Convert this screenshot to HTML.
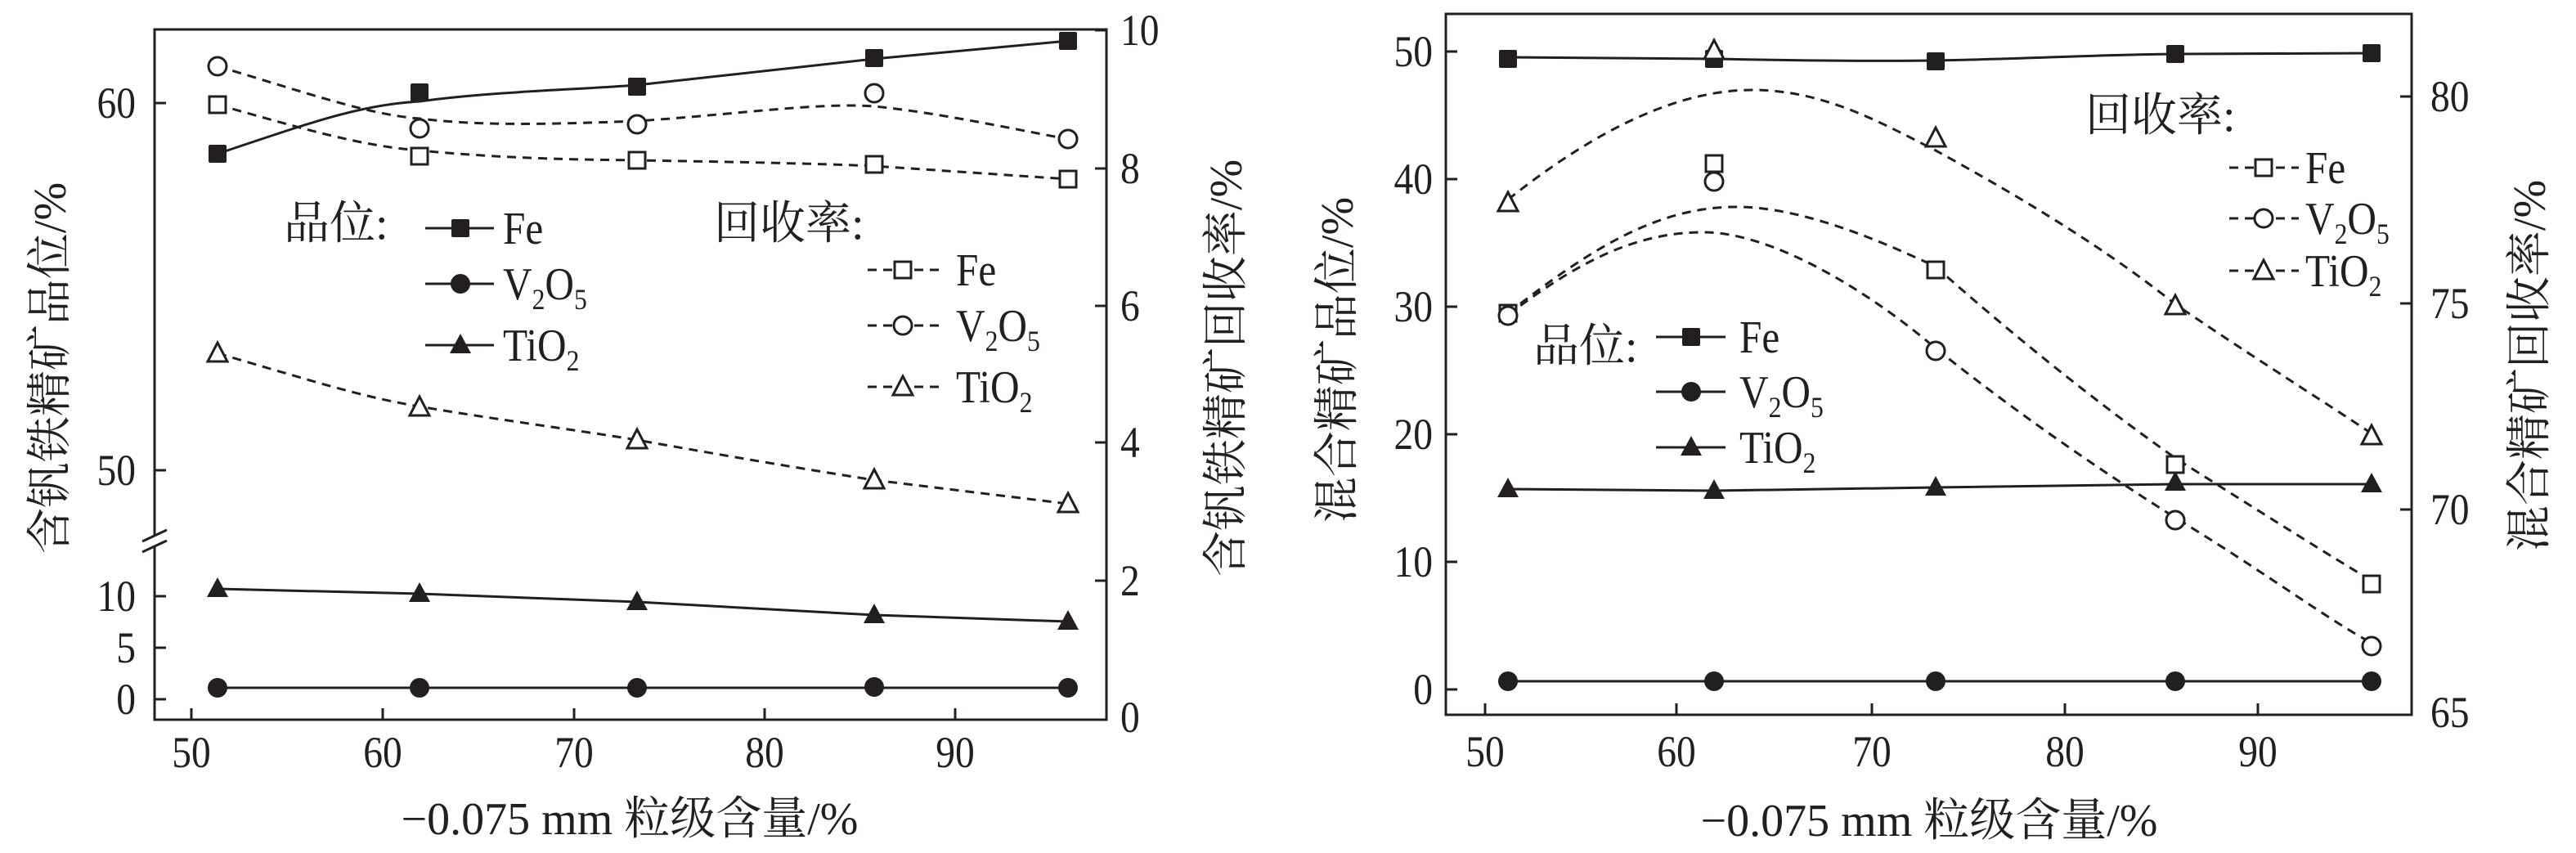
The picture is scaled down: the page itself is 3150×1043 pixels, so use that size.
<!DOCTYPE html>
<html><head><meta charset="utf-8"><style>
html,body{margin:0;padding:0;background:#fff;}
svg{display:block;font-family:"Liberation Serif","Times New Roman","Noto Serif CJK SC","DejaVu Serif",serif;}
text{font-family:"Liberation Serif","Times New Roman","Noto Serif CJK SC","DejaVu Serif",serif;fill:#231f20;}
.cj{font-family:"Liberation Serif","Noto Serif CJK SC","Noto Serif CJK JP",serif;font-size:56px;}
</style></head><body>
<svg width="3150" height="1043" viewBox="0 0 3150 1043" xmlns="http://www.w3.org/2000/svg" font-family="Liberation Serif, Noto Serif CJK SC, serif">
<defs>
<rect id="fs" x="-11" y="-11" width="22" height="22" rx="2" fill="#231f20"/>
<circle id="fc" r="12" fill="#231f20"/>
<path id="ft" d="M0,-14 L13,10 L-13,10 Z" fill="#231f20"/>
<rect id="os" x="-10" y="-10" width="20" height="20" fill="#fff" stroke="#231f20" stroke-width="3"/>
<circle id="oc" r="11" fill="#fff" stroke="#231f20" stroke-width="3"/>
<path id="ot" d="M0,-13 L12,10 L-12,10 Z" fill="#fff" stroke="#231f20" stroke-width="3"/>
</defs>
<g fill="none" stroke="#231f20" stroke-width="3">
<rect x="189" y="36" width="1164" height="844"/>
<path d="M189,126 h14 M189,575 h14 M189,729 h14 M189,792 h14 M189,855 h14"/>
<path d="M1353,37 h-14 M1353,206 h-14 M1353,374 h-14 M1353,541 h-14 M1353,710 h-14"/>
<path d="M234,880 v-14 M468,880 v-14 M702,880 v-14 M935,880 v-14 M1168,880 v-14"/>
</g>
<rect x="180" y="656" width="20" height="12" fill="#fff"/>
<path d="M174,662 L204,648 M174,675 L204,661" stroke="#231f20" stroke-width="3"/>
<g fill="none" stroke="#231f20" stroke-width="3">
<path d="M266,188 C380,150 440,128 513,124 C600,112 700,110 779,104 C880,92 980,82 1069,72 L1306,50"/>
<path d="M266,720 L513,726 L779,736 L1069,752 L1306,760"/>
<path d="M266,841 L1306,841"/>
<g stroke-dasharray="11 8">
<path d="M266,128 C380,160 440,178 513,184 C620,194 700,195 779,196 C900,198 1000,200 1069,203 L1306,219"/>
<path d="M266,81 C380,115 450,140 513,145 C580,153 650,153 779,148 C900,140 1000,125 1069,130 C1150,138 1250,160 1306,170"/>
<path d="M266,432 C380,465 440,485 513,497 C600,512 700,525 779,538 C880,556 980,573 1069,587 L1306,616"/>
</g>
</g>
<use href="#fs" x="266" y="188"/><use href="#fs" x="513" y="113"/><use href="#fs" x="779" y="106"/><use href="#fs" x="1069" y="71"/><use href="#fs" x="1306" y="50"/>
<use href="#ft" x="266" y="720"/><use href="#ft" x="513" y="726"/><use href="#ft" x="779" y="736"/><use href="#ft" x="1069" y="752"/><use href="#ft" x="1306" y="760"/>
<use href="#fc" x="266" y="841"/><use href="#fc" x="513" y="841"/><use href="#fc" x="779" y="841"/><use href="#fc" x="1069" y="840"/><use href="#fc" x="1306" y="841"/>
<use href="#os" x="266" y="128"/><use href="#os" x="513" y="191"/><use href="#os" x="779" y="196"/><use href="#os" x="1069" y="201"/><use href="#os" x="1306" y="219"/>
<use href="#oc" x="266" y="81"/><use href="#oc" x="513" y="157"/><use href="#oc" x="779" y="152"/><use href="#oc" x="1069" y="114"/><use href="#oc" x="1306" y="170"/>
<use href="#ot" x="266" y="432"/><use href="#ot" x="513" y="498"/><use href="#ot" x="779" y="538"/><use href="#ot" x="1069" y="587"/><use href="#ot" x="1306" y="616"/>
<path d="M520,279 H604 M520,347 H604 M520,422 H604" stroke="#231f20" stroke-width="3"/>
<use href="#fs" x="563" y="279"/><use href="#fc" x="563" y="347"/><use href="#ft" x="563" y="422"/>
<path d="M1061,330 H1149 M1061,398 H1149 M1061,473 H1149" stroke="#231f20" stroke-width="3" stroke-dasharray="11 8"/>
<use href="#os" x="1104" y="330"/><use href="#oc" x="1104" y="398"/><use href="#ot" x="1104" y="473"/>
<text class="cj" x="347" y="292">品位:</text>
<text class="cj" x="873" y="292">回收率:</text>
<g font-size="56">
<text transform="translate(615,298) scale(0.88,1)">Fe</text>
<text transform="translate(615,366) scale(0.88,1)">V<tspan font-size="36" dy="12">2</tspan><tspan dy="-12">O</tspan><tspan font-size="36" dy="12">5</tspan></text>
<text transform="translate(615,441) scale(0.88,1)">TiO<tspan font-size="36" dy="12">2</tspan></text>
<text transform="translate(1169,349) scale(0.88,1)">Fe</text>
<text transform="translate(1169,417) scale(0.88,1)">V<tspan font-size="36" dy="12">2</tspan><tspan dy="-12">O</tspan><tspan font-size="36" dy="12">5</tspan></text>
<text transform="translate(1169,492) scale(0.88,1)">TiO<tspan font-size="36" dy="12">2</tspan></text>
</g>
<g font-size="54" text-anchor="end">
<text transform="translate(166,144) scale(0.88,1)">60</text>
<text transform="translate(166,593) scale(0.88,1)">50</text>
<text transform="translate(166,747) scale(0.88,1)">10</text>
<text transform="translate(166,810) scale(0.88,1)">5</text>
<text transform="translate(166,873) scale(0.88,1)">0</text>
</g>
<g font-size="54">
<text transform="translate(1370,55) scale(0.88,1)">10</text>
<text transform="translate(1370,224) scale(0.88,1)">8</text>
<text transform="translate(1370,392) scale(0.88,1)">6</text>
<text transform="translate(1370,559) scale(0.88,1)">4</text>
<text transform="translate(1370,728) scale(0.88,1)">2</text>
<text transform="translate(1370,895) scale(0.88,1)">0</text>
</g>
<g font-size="54" text-anchor="middle">
<text transform="translate(234,938) scale(0.88,1)">50</text>
<text transform="translate(468,938) scale(0.88,1)">60</text>
<text transform="translate(702,938) scale(0.88,1)">70</text>
<text transform="translate(935,938) scale(0.88,1)">80</text>
<text transform="translate(1168,938) scale(0.88,1)">90</text>
</g>
<text class="cj" text-anchor="middle" transform="translate(80,450) rotate(-90)">含钒铁精矿品位/%</text>
<text class="cj" text-anchor="middle" transform="translate(1518,450) rotate(-90)">含钒铁精矿回收率/%</text>
<text class="cj" text-anchor="middle" x="770" y="1020">−0.075 mm 粒级含量/%</text>

<g fill="none" stroke="#231f20" stroke-width="3">
<rect x="1768" y="17" width="1181" height="857"/>
<path d="M1768,63 h14 M1768,219 h14 M1768,375 h14 M1768,531 h14 M1768,687 h14 M1768,843 h14"/>
<path d="M2949,118 h-14 M2949,371 h-14 M2949,623 h-14"/>
<path d="M1816,874 v-14 M2050,874 v-14 M2289,874 v-14 M2525,874 v-14 M2761,874 v-14"/>
<path d="M1844,70 L2096,72 C2200,74 2300,75 2367,74 C2480,72 2560,67 2660,66 L2900,65"/>
<path d="M1844,598 L2096,600 L2367,596 L2660,592 L2900,592"/>
<path d="M1844,833 L2900,833"/>
<g stroke-dasharray="11 8">
<path d="M1844,244 C1950,160 2050,110 2143,110 C2230,110 2300,150 2367,184 C2460,235 2570,300 2660,372 C2760,440 2840,490 2900,530"/>
<path d="M1844,383 C1950,300 2030,253 2123,253 C2200,253 2290,290 2367,326 C2450,400 2560,490 2660,560 C2770,630 2850,680 2900,710"/>
<path d="M1844,385 C1930,320 2000,284 2083,284 C2170,284 2290,360 2367,426 C2460,500 2560,570 2660,633 C2770,700 2850,760 2900,786"/>
</g>
</g>
<use href="#fs" x="1844" y="72"/><use href="#fs" x="2096" y="72"/><use href="#fs" x="2367" y="75"/><use href="#fs" x="2660" y="66"/><use href="#fs" x="2900" y="65"/>
<use href="#ft" x="1844" y="598"/><use href="#ft" x="2096" y="600"/><use href="#ft" x="2367" y="596"/><use href="#ft" x="2660" y="590"/><use href="#ft" x="2900" y="592"/>
<use href="#fc" x="1844" y="833"/><use href="#fc" x="2096" y="833"/><use href="#fc" x="2367" y="833"/><use href="#fc" x="2660" y="833"/><use href="#fc" x="2900" y="833"/>
<use href="#os" x="1844" y="383"/><use href="#os" x="2096" y="200"/><use href="#os" x="2367" y="330"/><use href="#os" x="2660" y="568"/><use href="#os" x="2900" y="714"/>
<use href="#oc" x="1844" y="386"/><use href="#oc" x="2096" y="222"/><use href="#oc" x="2367" y="429"/><use href="#oc" x="2660" y="636"/><use href="#oc" x="2900" y="790"/>
<use href="#ot" x="1844" y="248"/><use href="#ot" x="2096" y="62"/><use href="#ot" x="2367" y="169"/><use href="#ot" x="2660" y="374"/><use href="#ot" x="2900" y="533"/>
<path d="M2025,412 H2110 M2025,479 H2110 M2025,547 H2110" stroke="#231f20" stroke-width="3"/>
<use href="#fs" x="2068" y="412"/><use href="#fc" x="2068" y="479"/><use href="#ft" x="2068" y="547"/>
<path d="M2726,205 H2811 M2726,267 H2811 M2726,331 H2811" stroke="#231f20" stroke-width="3" stroke-dasharray="11 8"/>
<use href="#os" x="2768" y="205"/><use href="#oc" x="2768" y="267"/><use href="#ot" x="2768" y="331"/>
<text class="cj" x="1875" y="442">品位:</text>
<text class="cj" x="2550" y="160">回收率:</text>
<g font-size="56">
<text transform="translate(2127,431) scale(0.88,1)">Fe</text>
<text transform="translate(2127,498) scale(0.88,1)">V<tspan font-size="36" dy="12">2</tspan><tspan dy="-12">O</tspan><tspan font-size="36" dy="12">5</tspan></text>
<text transform="translate(2127,566) scale(0.88,1)">TiO<tspan font-size="36" dy="12">2</tspan></text>
<text transform="translate(2819,224) scale(0.88,1)">Fe</text>
<text transform="translate(2819,286) scale(0.88,1)">V<tspan font-size="36" dy="12">2</tspan><tspan dy="-12">O</tspan><tspan font-size="36" dy="12">5</tspan></text>
<text transform="translate(2819,350) scale(0.88,1)">TiO<tspan font-size="36" dy="12">2</tspan></text>
</g>
<g font-size="54" text-anchor="end">
<text transform="translate(1752,81) scale(0.88,1)">50</text>
<text transform="translate(1752,237) scale(0.88,1)">40</text>
<text transform="translate(1752,393) scale(0.88,1)">30</text>
<text transform="translate(1752,549) scale(0.88,1)">20</text>
<text transform="translate(1752,705) scale(0.88,1)">10</text>
<text transform="translate(1752,861) scale(0.88,1)">0</text>
</g>
<g font-size="54">
<text transform="translate(2972,136) scale(0.88,1)">80</text>
<text transform="translate(2972,389) scale(0.88,1)">75</text>
<text transform="translate(2972,641) scale(0.88,1)">70</text>
<text transform="translate(2972,889) scale(0.88,1)">65</text>
</g>
<g font-size="54" text-anchor="middle">
<text transform="translate(1816,937) scale(0.88,1)">50</text>
<text transform="translate(2050,937) scale(0.88,1)">60</text>
<text transform="translate(2289,937) scale(0.88,1)">70</text>
<text transform="translate(2525,937) scale(0.88,1)">80</text>
<text transform="translate(2761,937) scale(0.88,1)">90</text>
</g>
<text class="cj" text-anchor="middle" transform="translate(1654,440) rotate(-90)">混合精矿品位/%</text>
<text class="cj" text-anchor="middle" transform="translate(3112,447) rotate(-90)">混合精矿回收率/%</text>
<text class="cj" text-anchor="middle" x="2359" y="1022">−0.075 mm 粒级含量/%</text>
</svg>
</body></html>
